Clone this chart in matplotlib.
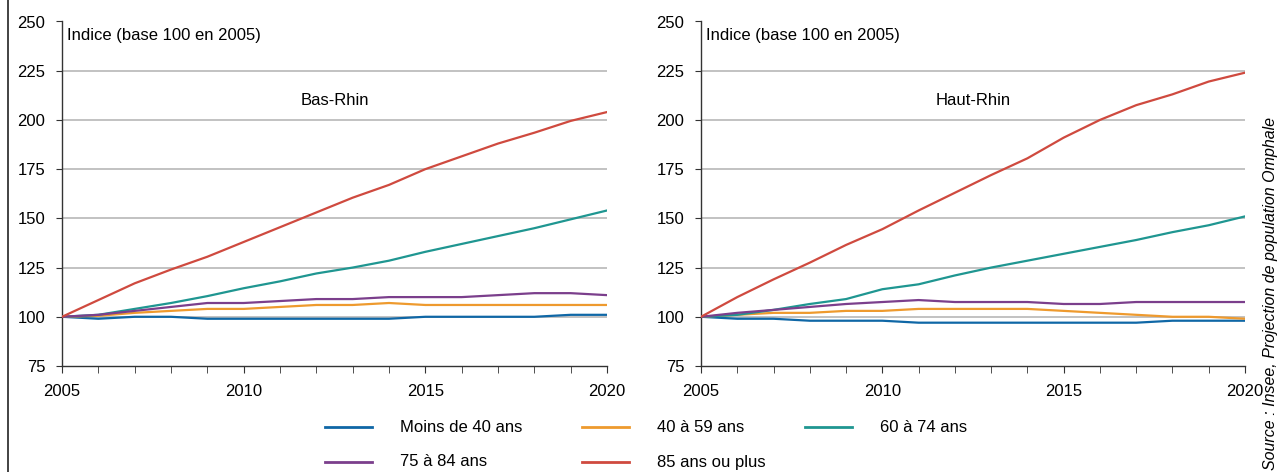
import numpy as np
import matplotlib
matplotlib.use('Agg')
from matplotlib import pyplot as plt
from matplotlib.lines import Line2D

years = list(range(2005, 2021))

# Bas-Rhin
bas_moins40 = [100, 99, 100, 100, 99, 99, 99, 99, 99, 99, 100, 100, 100, 100, 101, 101]
bas_40_59 = [100, 100.5, 102, 103, 104, 104, 105, 106, 106, 107, 106, 106, 106, 106, 106, 106]
bas_60_74 = [100, 101, 104, 107, 110.5, 114.5, 118, 122, 125, 128.5, 133, 137, 141, 145, 149.5, 154]
bas_75_84 = [100, 101, 103, 105, 107, 107, 108, 109, 109, 110, 110, 110, 111, 112, 112, 111]
bas_85plus = [100, 108.5, 117, 124, 130.5, 138, 145.5, 153, 160.5, 167, 175, 181.5, 188, 193.5, 199.5, 204]

# Haut-Rhin
haut_moins40 = [100, 99, 99, 98, 98, 98, 97, 97, 97, 97, 97, 97, 97, 98, 98, 98]
haut_40_59 = [100, 101, 102, 102, 103, 103, 104, 104, 104, 104, 103, 102, 101, 100, 100, 99]
haut_60_74 = [100, 101, 103.5, 106.5, 109, 114, 116.5, 121, 125, 128.5, 132, 135.5, 139, 143, 146.5, 151]
haut_75_84 = [100, 102, 103.5, 105, 106.5, 107.5, 108.5, 107.5, 107.5, 107.5, 106.5, 106.5, 107.5, 107.5, 107.5, 107.5]
haut_85plus = [100, 110, 119, 127.5, 136.5, 144.5, 154, 163, 172, 180.5, 191, 200, 207.5, 213, 219.5, 224]

labels = ['Moins de 40 ans', '40 à 59 ans', '60 à 74 ans', '75 à 84 ans', '85 ans ou plus']
colors = ['#0f67a6', '#ee9a2e', '#1f9691', '#7b3f8c', '#cf4a3f']
yticks = [75, 100, 125, 150, 175, 200, 225, 250]
xlabels = [2005, 2010, 2015, 2020]

plt.rcParams['font.family'] = ['Liberation Sans Narrow', 'Liberation Sans', 'DejaVu Sans']

fig = plt.figure(figsize=(12.84, 4.72), dpi=100)

panels = [
    ('Bas-Rhin', [bas_moins40, bas_40_59, bas_60_74, bas_75_84, bas_85plus], [62, 607]),
    ('Haut-Rhin', [haut_moins40, haut_40_59, haut_60_74, haut_75_84, haut_85plus], [701, 1245]),
]

for name, series, (x0, x1) in panels:
    ax = fig.add_axes([x0 / 1284, 1 - 366 / 472, (x1 - x0) / 1284, 344.5 / 472])
    for s, c in zip(series, colors):
        ax.plot(years, s, color=c, lw=1.6, zorder=3)
    ax.set_xlim(2005, 2020)
    ax.set_ylim(75, 250)
    ax.set_yticks(yticks)
    ax.set_xticks(xlabels)
    ax.set_xticks(years, minor=True)
    for y in yticks[1:]:
        ax.axhline(y, color='#bdbdbd', lw=1.3, zorder=1)
    for sp in ['top', 'right']:
        ax.spines[sp].set_visible(False)
    for sp in ['left', 'bottom']:
        ax.spines[sp].set_color('#333333')
        ax.spines[sp].set_linewidth(1.0)
    ax.tick_params(axis='both', which='both', direction='out', color='#333333', labelsize=12)
    ax.tick_params(axis='x', which='both', length=5, pad=8)
    ax.tick_params(axis='y', length=4, pad=8)
    ax.text(0.009, 0.96, 'Indice (base 100 en 2005)', transform=ax.transAxes,
            fontsize=12, va='center', ha='left')
    ax.text(0.5, 0.77, name, transform=ax.transAxes, fontsize=12,
            va='center', ha='center')

# legend drawn by hand to match positions
rows = [(427, [(325, 0), (582, 1), (805, 2)]), (462, [(325, 3), (582, 4)])]
for ypix, items in rows:
    yf = 1 - ypix / 472
    for xpix, i in items:
        fig.add_artist(Line2D([xpix / 1284, (xpix + 47) / 1284], [yf, yf],
                              color=colors[i], lw=2))
        fig.text((xpix + 75) / 1284, yf, labels[i], fontsize=12, va='center', ha='left')

# frame line at left
fig.add_artist(Line2D([8 / 1284, 8 / 1284], [0, 1], color='#222222', lw=1.2))

fig.text(1271 / 1284, 2 / 472, 'Source : Insee, Projection de population Omphale',
         rotation=90, fontsize=11.5, style='italic', va='bottom', ha='center',
         family=['Liberation Sans', 'DejaVu Sans'])

fig.savefig('out.png', dpi=100)
